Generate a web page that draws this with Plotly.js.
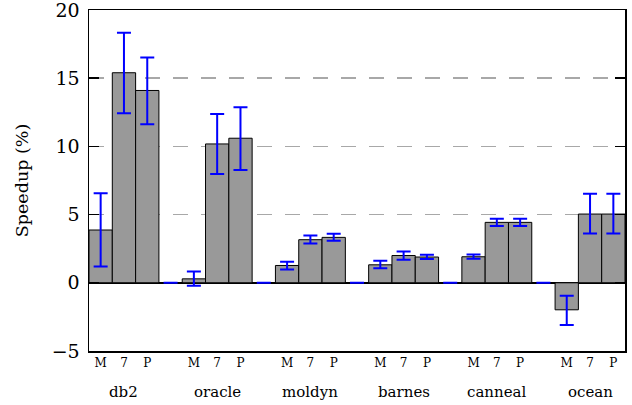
<!DOCTYPE html>
<html>
<head>
<meta charset="utf-8">
<script src="https://cdn.plot.ly/plotly-3.0.1.min.js"></script>
<style>html,body{margin:0;padding:0;background:#fff}#chart{width:632px;height:405px}</style>
</head>
<body>
<div id="chart"></div>
<script>
// ---- data ----
var benchmarks = ['db2', 'oracle', 'moldyn', 'barnes', 'canneal', 'ocean'];
var configs = ['M', '7', 'P'];
var yTicks = [-5, 0, 5, 10, 15, 20];
var speedupM = [3.87, 0.29, 1.27, 1.32, 1.91, -1.98];
var speedup7 = [15.4, 10.18, 3.16, 2.0, 4.43, 5.04];
var speedupP = [14.1, 10.6, 3.33, 1.89, 4.43, 5.04];
var lowM  = [1.2, -0.22, 0.98, 1.06, 1.76, -3.1];
var highM = [6.56, 0.83, 1.54, 1.62, 2.08, -0.95];
var low7  = [12.43, 7.98, 2.89, 1.69, 4.16, 3.62];
var high7 = [18.33, 12.38, 3.47, 2.3, 4.7, 6.53];
var lowP  = [11.62, 8.27, 3.08, 1.74, 4.16, 3.62];
var highP = [16.52, 12.87, 3.6, 2.06, 4.7, 6.53];

// ---- build trace from the arrays ----
var series = [[speedupM, lowM, highM], [speedup7, low7, high7], [speedupP, lowP, highP]];
var xs = [], ys = [], errUp = [], errDown = [], tickvals = [], ticktext = [];
var gapX = [], gapY = [];
var slot = 0;
benchmarks.forEach(function (b, i) {
  series.forEach(function (s, j) {
    xs.push(slot); ys.push(s[0][i]);
    errUp.push(s[2][i] - s[0][i]);
    errDown.push(s[0][i] - s[1][i]);
    tickvals.push(slot); ticktext.push(configs[j]);
    slot++;
  });
  if (i < benchmarks.length - 1) { gapX.push(slot); gapY.push(0); slot++; }
});

var font = 'DejaVu Serif';
var errStyle = {color: '#0000ff', thickness: 2, width: 7};

var traces = [
  {
    type: 'bar', x: xs, y: ys, width: 1,
    marker: {color: '#999999', line: {color: '#000000', width: 1}},
    error_y: Object.assign({type: 'data', symmetric: false, array: errUp, arrayminus: errDown, visible: true}, errStyle),
    hoverinfo: 'y', showlegend: false
  },
  {
    type: 'bar', x: gapX, y: gapY, width: 1,
    marker: {color: '#999999', line: {color: '#000000', width: 1}},
    error_y: Object.assign({type: 'data', array: gapY.map(function(){return 0;}), visible: true}, errStyle),
    hoverinfo: 'skip', showlegend: false
  }
];

var annotations = benchmarks.map(function (b, i) {
  return {
    text: b, x: i * 4 + 1, xref: 'x', y: 0, yref: 'paper', yanchor: 'top',
    yshift: -30, showarrow: false, font: {family: font, size: 15, color: '#000'}
  };
});

var layout = {
  width: 632, height: 405,
  margin: {l: 89, r: 7, t: 10, b: 54},
  paper_bgcolor: '#fff', plot_bgcolor: '#fff',
  barmode: 'overlay',
  font: {family: font, color: '#000'},
  xaxis: {
    range: [-0.5, slot - 0.5], tickvals: tickvals, ticktext: ticktext,
    showgrid: false, zeroline: false, showline: true, linecolor: '#000', linewidth: 1.5,
    mirror: true, ticks: '', tickfont: {family: font, size: 12, color: '#000'}
  },
  yaxis: {
    range: [-5, 20], tickmode: 'array', tickvals: yTicks, automargin: false, ticklabeloverflow: 'allow',
    showgrid: true, gridcolor: '#a8a8a8', gridwidth: 1.5, griddash: '15px,13px',
    zeroline: true, zerolinecolor: '#000', zerolinewidth: 1.5,
    showline: true, linecolor: '#000', linewidth: 1.5, mirror: 'allticks',
    ticks: 'inside', ticklen: 10, tickcolor: '#000', tickwidth: 1.5,
    ticklabelstandoff: 4,
    tickfont: {family: font, size: 19, color: '#000'},
    title: {text: 'Speedup (%)', font: {family: font, size: 17.5, color: '#000'}, standoff: 18}
  },
  annotations: annotations
};

Plotly.newPlot('chart', traces, layout, {staticPlot: true, displayModeBar: false});
</script>
</body>
</html>
